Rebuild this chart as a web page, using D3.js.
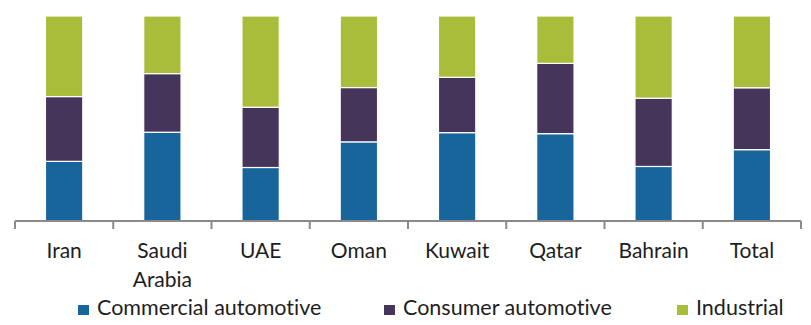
<!DOCTYPE html>
<html>
<head>
<meta charset="utf-8">
<script src="https://cdn.jsdelivr.net/npm/d3@7"></script>
<style>
  html, body { margin: 0; padding: 0; background: #ffffff; }
  svg { display: block; }
  text { font-family: Lato, "Open Sans", sans-serif; fill: #1e1e1e; font-variant-ligatures: none; font-feature-settings: "liga" 0; }
</style>
</head>
<body>
<svg id="chart" width="811" height="325"></svg>
<script>
// Market split by end-use segment, share of each country's total (%)
const categories = ["Iran", "Saudi Arabia", "UAE", "Oman", "Kuwait", "Qatar", "Bahrain", "Total"];
const seriesNames = ["Commercial automotive", "Consumer automotive", "Industrial"];
const commercial = [29.1, 43.3, 26.1, 38.6, 43.1, 42.6, 26.6, 34.8];
const consumer   = [31.6, 28.6, 29.4, 26.5, 27.0, 34.3, 33.3, 30.2];
const industrial = [39.3, 28.1, 44.5, 34.9, 29.9, 23.1, 40.1, 35.0];
const colors = ["#17659b", "#46355b", "#aabd3a"];

const rows = categories.map((c, i) => ({
  cat: c,
  "Commercial automotive": commercial[i],
  "Consumer automotive": consumer[i],
  "Industrial": industrial[i]
}));

const svg = d3.select("#chart");
const plotLeft = 15, plotRight = 801, plotTop = 16, plotBottom = 221;

const x = d3.scaleBand().domain(categories).range([plotLeft, plotRight]).padding(0);
const barW = x.bandwidth() * 0.38;
const y = d3.scaleLinear().domain([0, 1]).range([plotBottom, plotTop]);
const color = d3.scaleOrdinal().domain(seriesNames).range(colors);

const stacked = d3.stack().keys(seriesNames).offset(d3.stackOffsetExpand)(rows);

// stacked bars
svg.append("g")
  .selectAll("g")
  .data(stacked)
  .join("g")
  .attr("fill", d => color(d.key))
  .selectAll("rect")
  .data(d => d)
  .join("rect")
  .attr("x", d => x(d.data.cat) + (x.bandwidth() - barW) / 2)
  .attr("width", barW)
  .attr("y", d => y(d[1]))
  .attr("height", d => y(d[0]) - y(d[1]))
  .attr("stroke", "#ffffff")
  .attr("stroke-width", 1.2);

// category axis: baseline with ticks at the band boundaries
const axisG = svg.append("g").attr("transform", `translate(0,${plotBottom})`);
axisG.append("line")
  .attr("x1", plotLeft).attr("x2", plotRight)
  .attr("y1", 0).attr("y2", 0)
  .attr("stroke", "#8a8a8a").attr("stroke-width", 2);
const edges = categories.map(c => x(c)).concat([plotRight]);
axisG.selectAll("line.tick")
  .data(edges)
  .join("line")
  .attr("class", "tick")
  .attr("x1", d => d).attr("x2", d => d)
  .attr("y1", 0).attr("y2", 8)
  .attr("stroke", "#8a8a8a").attr("stroke-width", 2);

// category labels, wrapped on spaces
const labels = svg.append("g")
  .selectAll("text")
  .data(categories)
  .join("text")
  .attr("x", d => x(d) + x.bandwidth() / 2)
  .attr("y", 258)
  .attr("text-anchor", "middle")
  .attr("font-size", 21);
labels.each(function(d) {
  const t = d3.select(this);
  d.split(" ").forEach((w, i) => {
    t.append("tspan")
      .attr("x", x(d) + x.bandwidth() / 2)
      .attr("dy", i === 0 ? 0 : 28.5)
      .text(w);
  });
});

// legend
const legendX = [78, 384, 677];
const legend = svg.append("g")
  .selectAll("g")
  .data(seriesNames)
  .join("g")
  .attr("transform", (d, i) => `translate(${legendX[i]},305)`);
legend.append("rect")
  .attr("width", 11).attr("height", 10)
  .attr("fill", d => color(d));
legend.append("text")
  .attr("x", 19).attr("y", 10)
  .attr("font-size", 21.5)
  .text(d => d);
</script>
</body>
</html>
